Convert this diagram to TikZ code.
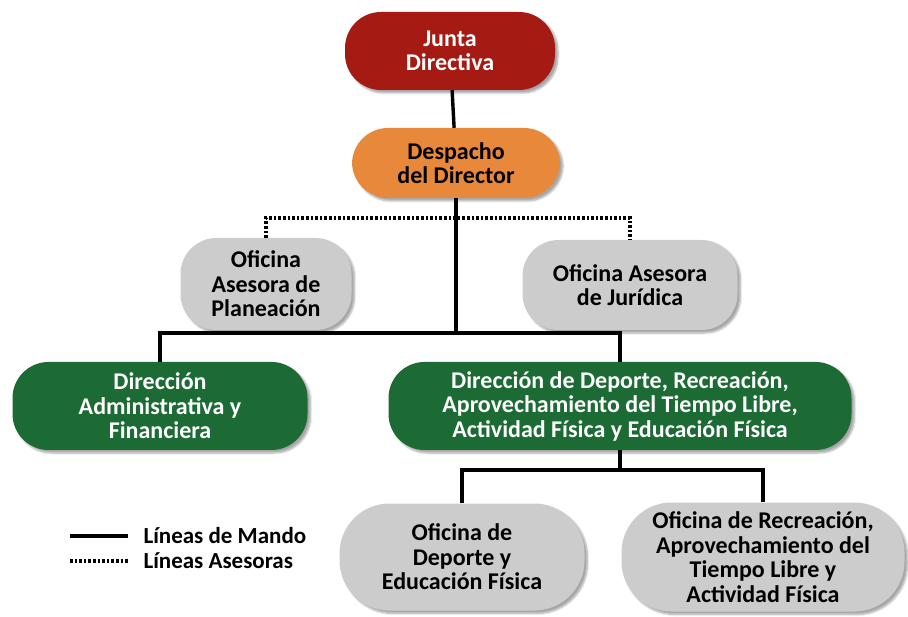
\documentclass[tikz,border=0pt]{standalone}
\usepackage{fontspec}
\setmainfont{Carlito}
\usetikzlibrary{calc,shadows.blur}
\definecolor{juntaRed}{RGB}{165,27,20}
\definecolor{despachoOrange}{RGB}{232,136,58}
\definecolor{grisOficina}{RGB}{204,204,204}
\definecolor{verdeDir}{RGB}{28,107,52}
\tikzset{
	caja/.style={rectangle, rounded corners=36pt, align=center, inner sep=0pt,
		font=\fontsize{24}{24.5}\selectfont\bfseries,
		blur shadow={shadow xshift=3pt, shadow yshift=-3pt, shadow blur steps=6, shadow opacity=35}},
	junta/.style={caja, fill=juntaRed, text=white},
	despacho/.style={caja, fill=despachoOrange, text=black},
	oficina/.style={caja, fill=grisOficina, text=black},
	direccion/.style={caja, fill=verdeDir, text=white},
	mando/.style={line width=3.4pt},
	asesora/.style={line width=3.6pt, dash pattern=on 2.6pt off 2pt}
}

\begin{document}
\begin{tikzpicture}[x=1pt, y=-1pt]
		%%%%% START %%%%%
		\useasboundingbox (0,0) rectangle (908,617);
		
		\node[junta, minimum width=210pt, minimum height=78pt] (junta) at (450, 51) {Junta\\Directiva};
		\node[despacho, minimum width=208pt, minimum height=70pt] (despacho) at (456, 163) {Despacho\\del Director};
		
		\node[oficina, minimum width=171pt, minimum height=92pt] (planeacion) at (266, 284) {Oficina\\Asesora de\\Planeación};
		\node[oficina, minimum width=215pt, minimum height=90pt] (juridica) at (630, 285) {Oficina Asesora\\de Jurídica};
		
		\node[direccion, minimum width=295pt, minimum height=88pt] (dirAdm) at (160, 406) {Dirección\\Administrativa y\\Financiera};
		\node[direccion, minimum width=463pt, minimum height=88pt] (dirDep) at (620, 406) {Dirección de Deporte, Recreación,\\Aprovechamiento del Tiempo Libre,\\Actividad Física y Educación Física};
		
		\node[oficina, rounded corners=50pt, minimum width=245pt, minimum height=107pt] (ofDep) at (462, 557) {Oficina de\\Deporte y\\Educación Física};
		\node[oficina, rounded corners=50pt, minimum width=283pt, minimum height=109pt] (ofRec) at (763, 557) {Oficina de Recreación,\\Aprovechamiento del\\Tiempo Libre y\\Actividad Física};
		
		% lineas de mando
		\coordinate (split1) at (456, 333);
		\coordinate (split2) at (620, 470);
		\draw[mando] (junta) -- (despacho);
		\draw[mando] (despacho.south) -- (split1);
		\draw[mando] (dirAdm.north) |- (split1) -| (dirDep.north);
		\draw[mando] (dirDep.south) -- (split2);
		\draw[mando] (ofDep.north) |- (split2) -| (ofRec.north);
		
		% lineas asesoras
		\coordinate (dots) at (456, 218);
		\draw[asesora] (planeacion.north) |- (dots) -| (juridica.north);
		
		% leyenda
		\coordinate (legA) at (70, 536);
		\coordinate (legB) at (128, 536);
		\coordinate (legC) at (70, 561);
		\coordinate (legD) at (128, 561);
		\draw[mando] (legA) -- (legB);
		\draw[asesora] (legC) -- (legD);
		\node[anchor=west, font=\fontsize{23}{25}\selectfont\bfseries] (mandoTxt) at (140, 536) {Líneas de Mando};
		\node[anchor=west, font=\fontsize{23}{25}\selectfont\bfseries] (asesoraTxt) at (140, 561) {Líneas Asesoras};
		
		%%%%% END %%%%%
\end{tikzpicture}
\end{document}
